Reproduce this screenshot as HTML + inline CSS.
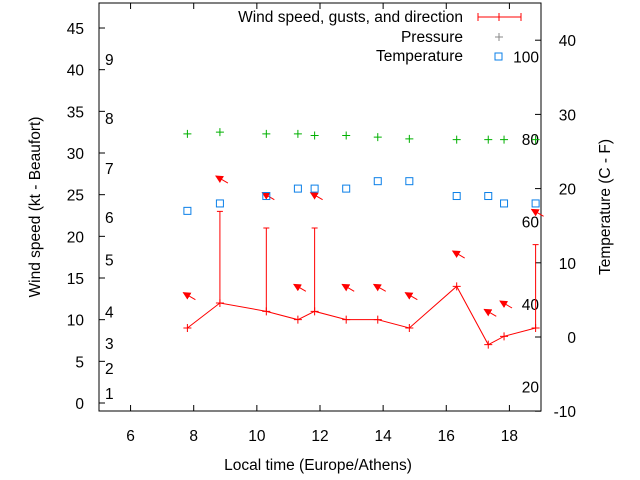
<!DOCTYPE html>
<html><head><meta charset="utf-8"><style>
body{margin:0;background:#fff;}
svg{display:block;font-family:"Liberation Sans",sans-serif;font-size:15.5px;}
</style></head><body>
<svg id="chart" width="640" height="480" xmlns="http://www.w3.org/2000/svg">
<defs><marker id="ah" markerUnits="userSpaceOnUse" markerWidth="8" markerHeight="8" refX="7" refY="4" orient="auto"><path d="M0,0 L8,4 L0,8 z" fill="red"/></marker></defs>
<rect x="99" y="3" width="442" height="408" fill="none" stroke="#000"/>
<g id="axes"></g>
<g id="marks"></g>
<g>
<text x="463" y="22" text-anchor="end">Wind speed, gusts, and direction</text>
<line x1="478" y1="17" x2="521" y2="17" stroke="red"/><line x1="478" y1="13" x2="478" y2="21" stroke="red"/><line x1="521" y1="13" x2="521" y2="21" stroke="red"/><line x1="499" y1="13" x2="499" y2="21" stroke="red"/>
<text x="463" y="42" text-anchor="end">Pressure</text>
<path d="M495,37h8M499,33v8" stroke="#888"/>
<text x="463" y="61" text-anchor="end">Temperature</text>
<rect x="495" y="53" width="7" height="7" fill="none" stroke="#0a7fe8"/>
</g>
<text x="318" y="470" text-anchor="middle">Local time (Europe/Athens)</text>
<text transform="translate(40,207) rotate(-90)" text-anchor="middle">Wind speed (kt - Beaufort)</text>
<text transform="translate(610,207) rotate(-90)" text-anchor="middle">Temperature (C - F)</text>
</svg>
<script>
const times=[7.8,8.83,10.3,11.3,11.83,12.83,13.83,14.83,16.33,17.33,17.83,18.83];
const windSpeed=[9,12,11,10,11,10,10,9,14,7,8,9];
const gustTimes=[8.83,10.3,11.83,18.83];
const gusts=[23,21,21,19];
const tempC=[17,18,19,20,20,20,21,21,19,19,18,18];
const pressure=[32.3,32.5,32.3,32.3,32.1,32.1,31.9,31.7,31.6,31.6,31.6,31.6];
const arrowLevel=[13,27,25,14,25,14,14,13,18,11,12,23];
const xTicks=[6,8,10,12,14,16,18];
const yTicks=[0,5,10,15,20,25,30,35,40,45];
const y2Ticks=[-10,0,10,20,30,40];
const beaufort=["1","2","3","4","5","6","7","8","9"];
const beaufortPos=[1.2,4.2,7.2,11,17.2,22.3,28.2,34.2,41.3];
const fTicks=[20,40,60,80,100];
const X=t=>99+(t-5)*31.57;
const Y=v=>403-v*8.333;
const Y2=c=>337-c*7.42;
const NS="http://www.w3.org/2000/svg";
const ax=document.getElementById('axes'),mk=document.getElementById('marks');
function el(tag,attrs,parent,txt){const e=document.createElementNS(NS,tag);for(const k in attrs)e.setAttribute(k,attrs[k]);if(txt!==undefined)e.textContent=txt;parent.appendChild(e);return e;}
xTicks.forEach(t=>{const x=X(t);
el('line',{x1:x,y1:411,x2:x,y2:405,stroke:'#000'},ax);el('line',{x1:x,y1:3,x2:x,y2:9,stroke:'#000'},ax);
const e=el('text',{x:x,y:441,'text-anchor':'middle'},ax,t);

});
yTicks.forEach(v=>{const y=Y(v);
el('line',{x1:99,y1:y,x2:105,y2:y,stroke:'#000'},ax);
const e=el('text',{x:84,y:y+6,'text-anchor':'end'},ax,v);

});
y2Ticks.forEach(c=>{const y=Y2(c);
el('line',{x1:541,y1:y,x2:535,y2:y,stroke:'#000'},ax);
const e=el('text',{x:576,y:y+6,'text-anchor':'end'},ax,c);

});
beaufort.forEach((b,i)=>{const e=el('text',{x:105,y:Y(beaufortPos[i])+6},ax,b);

});
fTicks.forEach(f=>{const e=el('text',{x:539,y:Y2((f-32)/1.8)+6,'text-anchor':'end'},ax,f);

});
const pl=el('polyline',{points:times.map((t,i)=>X(t)+','+Y(windSpeed[i])).join(' '),fill:'none',stroke:'red'},mk);


times.forEach((t,i)=>{const x=X(t),y=Y(windSpeed[i]);
const p=el('path',{d:`M${x-4},${y}h8M${x},${y-4}v8`,stroke:'red'},mk);

});
gustTimes.forEach((t,i)=>{const x=X(t);const wi=times.indexOf(t);const y0=Y(windSpeed[wi]),y1=Y(gusts[i]);
const g=el('path',{d:`M${x},${y0}V${y1}M${x-3},${y1}h6`,stroke:'red'},mk);

});
times.forEach((t,i)=>{const x=X(t),y=Y(arrowLevel[i]);
const a=el('line',{x1:x+8,y1:y+5,x2:x-4,y2:y-2,stroke:'red','marker-end':'url(#ah)'},mk);

});
times.forEach((t,i)=>{const x=X(t),y=Y(pressure[i]);
const p=el('path',{d:`M${x-4},${y}h8M${x},${y-4}v8`,stroke:'#00b000'},mk);

});
times.forEach((t,i)=>{const x=X(t),y=Y2(tempC[i]);
const r=el('rect',{x:x-3.5,y:y-3.5,width:7,height:7,fill:'none',stroke:'#0a7fe8'},mk);

});
</script>
</body></html>
